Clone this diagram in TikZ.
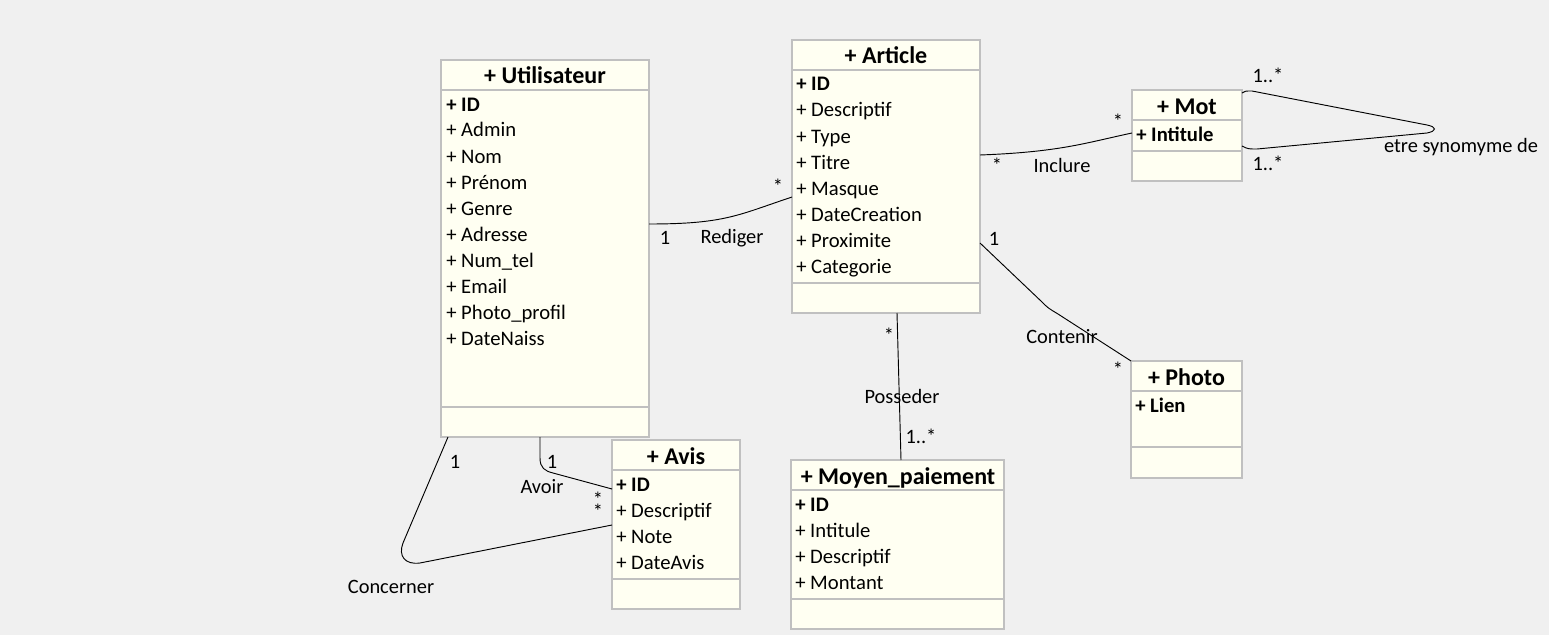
\documentclass[tikz,border=0pt]{standalone}
\usepackage{fontspec}
\setmainfont{Carlito}
\usetikzlibrary{calc}
\definecolor{bg}{HTML}{F0F0F0}
\definecolor{boxfill}{HTML}{FFFFF2}
\definecolor{boxline}{HTML}{C0C0C0}
\begin{document}
\begin{tikzpicture}[x=0.75pt, y=-0.75pt,
    classbox/.style={draw=boxline, line width=1.5pt, fill=boxfill, anchor=north west, inner sep=0pt, outer sep=0pt},
    sep/.style={draw=boxline, line width=1.5pt},
    title/.style={anchor=base, inner sep=0pt, font=\fontsize{18}{21}\selectfont\bfseries},
    attr/.style={anchor=base west, inner sep=0pt, font=\fontsize{15.5}{18}\selectfont},
    key/.style={attr, font=\fontsize{15.5}{18}\selectfont\bfseries},
    lbl/.style={anchor=base, inner sep=0pt, font=\fontsize{15.3}{18}\selectfont},
    assoc/.style={draw=black, line width=0.7pt}]
  \fill[bg] (0,0) rectangle (1549,635);

  % Utilisateur
  \node[classbox, minimum width=156pt, minimum height=282.75pt] (user) at (441,60) {};
  \draw[sep] ($(user.north west)+(0,30)$) -- ($(user.north east)+(0,30)$);
  \draw[sep] ($(user.south west)+(0,-30)$) -- ($(user.south east)+(0,-30)$);
  \node[title] (user-t) at (545,84) {+ Utilisateur};
  \node[key] (user-a1) at (446,111) {+ ID};
  \foreach \t [count=\i from 2] in {Admin,Nom,Prénom,Genre,Adresse,Num\_tel,Email,Photo\_profil,DateNaiss}
    \node[attr] (user-a\i) at (446,85+26*\i) {+ \t};

  % Article
  \node[classbox, minimum width=141pt, minimum height=204.75pt] (article) at (792,40) {};
  \draw[sep] ($(article.north west)+(0,30)$) -- ($(article.north east)+(0,30)$);
  \draw[sep] ($(article.south west)+(0,-30)$) -- ($(article.south east)+(0,-30)$);
  \node[title] (article-t) at (886,64) {+ Article};
  \node[key] (article-a1) at (796,91) {+ ID};
  \foreach \t [count=\i from 2] in {Descriptif,Type,Titre,Masque,DateCreation,Proximite,Categorie}
    \node[attr] (article-a\i) at (796,65+26*\i) {+ \t};

  % Mot
  \node[classbox, minimum width=82.5pt, minimum height=68.25pt] (mot) at (1132,90) {};
  \draw[sep] ($(mot.north west)+(0,30)$) -- ($(mot.north east)+(0,30)$);
  \draw[sep] ($(mot.south west)+(0,-30)$) -- ($(mot.south east)+(0,-30)$);
  \node[title] (mot-t) at (1187,114) {+ Mot};
  \node[key] (mot-a1) at (1136,141) {+ Intitule};

  % Photo
  \node[classbox, minimum width=83.25pt, minimum height=87.75pt] (photo) at (1131,361) {};
  \draw[sep] ($(photo.north west)+(0,30)$) -- ($(photo.north east)+(0,30)$);
  \draw[sep] ($(photo.south west)+(0,-31)$) -- ($(photo.south east)+(0,-31)$);
  \node[title] (photo-t) at (1186.5,385) {+ Photo};
  \node[key] (photo-a1) at (1135,412) {+ Lien};

  % Moyen_paiement
  \node[classbox, minimum width=159.75pt, minimum height=126.75pt] (moyen) at (791,460) {};
  \draw[sep] ($(moyen.north west)+(0,30)$) -- ($(moyen.north east)+(0,30)$);
  \draw[sep] ($(moyen.south west)+(0,-30)$) -- ($(moyen.south east)+(0,-30)$);
  \node[title] (moyen-t) at (898,484) {+ Moyen\_paiement};
  \node[key] (moyen-a1) at (795,511) {+ ID};
  \foreach \t [count=\i from 2] in {Intitule,Descriptif,Montant}
    \node[attr] (moyen-a\i) at (795,485+26*\i) {+ \t};

  % Avis
  \node[classbox, minimum width=96pt, minimum height=126.75pt] (avis) at (612,440) {};
  \draw[sep] ($(avis.north west)+(0,30)$) -- ($(avis.north east)+(0,30)$);
  \draw[sep] ($(avis.south west)+(0,-30)$) -- ($(avis.south east)+(0,-30)$);
  \node[title] (avis-t) at (676,464) {+ Avis};
  \node[key] (avis-a1) at (616,491) {+ ID};
  \foreach \t [count=\i from 2] in {Descriptif,Note,DateAvis}
    \node[attr] (avis-a\i) at (616,465+26*\i) {+ \t};

  \begin{scope}[assoc]
    \draw ($(user.north east)+(0,164)$) .. controls (725,224) and (738,215) .. ($(article.north west)+(0,157)$);
    \draw ($(article.north east)+(0,115)$) .. controls (1060,152) and (1085,143) .. ($(mot.north west)+(0,43)$);
    \draw ($(mot.north east)+(0,3)$) .. controls (1245,91) .. (1252,91) -- (1427,125)
      .. controls (1437,127) and (1437,131) .. (1427,133) -- (1257,149)
      .. controls (1248,149) .. ($(mot.north east)+(0,56)$);
    \draw ($(article.north east)+(0,203)$) -- (1042,302) .. controls (1048,308) .. (1058,314) -- (photo.north west);
    \draw ($(article.south)+(11,0)$) -- ($(moyen.north west)+(110,0)$);
    \draw ($(user.south west)+(99,0)$) -- (540,458) .. controls (540,468) and (545,471) .. (553,473) -- ($(avis.north west)+(0,49)$);
    \draw ($(user.south west)+(7,0)$) -- (403,543) .. controls (398,556) and (405,565) .. (420,563) -- ($(avis.north west)+(0,85)$);
  \end{scope}

  % multiplicities and names
  \node[lbl] (rediger-1) at (665,244) {1};
  \node[lbl] (rediger-n) at (732,243) {Rediger};
  \node[lbl] (rediger-2) at (778,193) {*};
  \node[lbl] (inclure-1) at (997,172) {*};
  \node[lbl] (inclure-n) at (1062,172) {Inclure};
  \node[lbl] (inclure-2) at (1118,128) {*};
  \node[lbl] (syn-1) at (1268,83) {1..*};
  \node[lbl] (syn-2) at (1268,170) {1..*};
  \node[lbl] (syn-n) at (1461,152) {etre synomyme de};
  \node[lbl] (contenir-1) at (994,245) {1};
  \node[lbl] (contenir-n) at (1062,343) {Contenir};
  \node[lbl] (contenir-2) at (1118,376) {*};
  \node[lbl] (posseder-1) at (889,342) {*};
  \node[lbl] (posseder-n) at (902,403) {Posseder};
  \node[lbl] (posseder-2) at (921,443) {1..*};
  \node[lbl] (avoir-1) at (552,468) {1};
  \node[lbl] (avoir-n) at (542,493) {Avoir};
  \node[lbl] (avoir-2) at (598,506) {*};
  \node[lbl] (concerner-2) at (598,518) {*};
  \node[lbl] (concerner-1) at (455,468) {1};
  \node[lbl] (concerner-n) at (391,593) {Concerner};
\end{tikzpicture}
\end{document}
